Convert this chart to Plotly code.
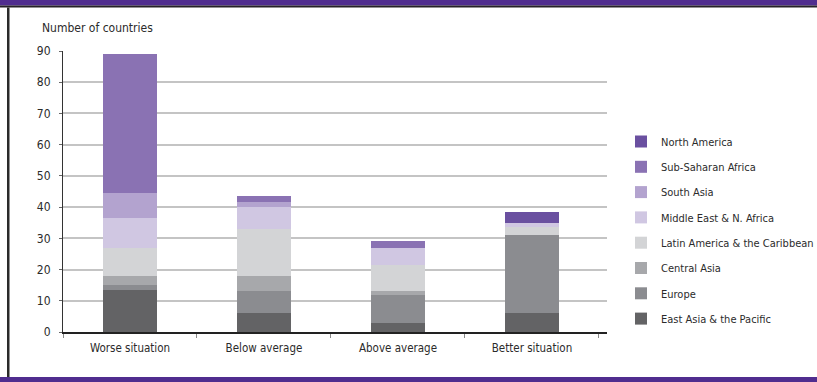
import plotly.graph_objects as go

# Number of countries per situation group, split by region
categories = ["Worse situation", "Below average", "Above average", "Better situation"]

east_asia_pacific = [13.5, 6, 3, 6]
europe = [1.5, 7, 9, 25]
central_asia = [3, 5, 1, 0]
latin_america_caribbean = [9, 15, 8.5, 2.5]
middle_east_n_africa = [9.5, 7, 5.5, 1.5]
south_asia = [8, 1.5, 0, 0]
sub_saharan_africa = [44.5, 2, 2, 0]
north_america = [0, 0, 0, 3.5]

y_ticks = [0, 10, 20, 30, 40, 50, 60, 70, 80, 90]

# bottom of the stack first
series = [
    ("East Asia & the Pacific", east_asia_pacific, "#636365"),
    ("Europe", europe, "#8b8c90"),
    ("Central Asia", central_asia, "#a7a8ab"),
    ("Latin America & the Caribbean", latin_america_caribbean, "#d3d4d6"),
    ("Middle East & N. Africa", middle_east_n_africa, "#d0c7e2"),
    ("South Asia", south_asia, "#b3a3cf"),
    ("Sub-Saharan Africa", sub_saharan_africa, "#8a72b3"),
    ("North America", north_america, "#6a50a0"),
]

W, H = 817, 382
ML, MR, MT, MB = 63, 210, 51, 50
PW, PH = W - ML - MR, H - MT - MB

FONT = "DejaVu Sans Condensed, Roboto, sans-serif"
PURPLE = "#502d8f"
TEXT = "#2b2b2b"


def px_x(px):
    return (px - ML) / PW


def px_y(py):
    return (H - MB - py) / PH


fig = go.Figure()
n = len(series)
for i, (name, vals, color) in enumerate(series):
    fig.add_trace(go.Bar(
        x=categories, y=vals, name=name, legendgroup=name,
        legendrank=n - i,
        marker=dict(color=color, line=dict(width=0)),
        width=0.41, hoverinfo="x+y+name",
    ))

shapes = [
    # top band with a dark rule underneath
    dict(type="rect", xref="paper", yref="paper", x0=px_x(0), x1=px_x(W),
         y0=px_y(0), y1=px_y(5.5), fillcolor=PURPLE, line=dict(width=0), layer="above"),
    dict(type="rect", xref="paper", yref="paper", x0=px_x(0), x1=px_x(W),
         y0=px_y(5.5), y1=px_y(7.5), fillcolor="#262228", line=dict(width=0), layer="above"),
    # left rule
    dict(type="rect", xref="paper", yref="paper", x0=px_x(7), x1=px_x(9.5),
         y0=px_y(7.5), y1=px_y(377), fillcolor="#2a2a2a", line=dict(width=0), layer="above"),
    # bottom band
    dict(type="rect", xref="paper", yref="paper", x0=px_x(0), x1=px_x(W),
         y0=px_y(377), y1=px_y(H), fillcolor=PURPLE, line=dict(width=0), layer="above"),
]

fig.update_layout(
    width=W, height=H,
    margin=dict(l=ML, r=MR, t=MT, b=MB, pad=0, autoexpand=False),
    paper_bgcolor="white", plot_bgcolor="white",
    barmode="stack",
    font=dict(family=FONT, size=12, color=TEXT),
    showlegend=True,
    legend=dict(
        x=px_x(621), xanchor="left", y=px_y(127), yanchor="top",
        traceorder="grouped", tracegroupgap=6.3,
        font=dict(family=FONT, size=11, color=TEXT),
        bgcolor="rgba(0,0,0,0)", borderwidth=0,
    ),
    shapes=shapes,
    annotations=[dict(
        text="Number of countries", xref="paper", yref="paper",
        x=px_x(40), y=px_y(28), xanchor="left", yanchor="middle",
        showarrow=False, font=dict(family=FONT, size=12, color=TEXT),
    )],
    xaxis=dict(
        type="category", range=[-0.5, 3.56], tickson="boundaries",
        ticks="outside", ticklen=4, tickcolor="#888", tickwidth=1,
        showline=True, linecolor="#222", linewidth=1.5,
        showgrid=False, zeroline=False,
        tickfont=dict(family=FONT, size=11.5, color=TEXT),
        ticklabelstandoff=4,
    ),
    yaxis=dict(
        range=[0, 90], tickvals=y_ticks,
        ticks="outside", ticklen=3, tickcolor="#666", tickwidth=1,
        showline=True, linecolor="#333", linewidth=1,
        showgrid=True, gridcolor="#c4c4c4", gridwidth=1.5,
        zeroline=False,
        tickfont=dict(family=FONT, size=12, color=TEXT),
        ticklabelstandoff=6,
    ),
)

fig.write_html("out.html")
